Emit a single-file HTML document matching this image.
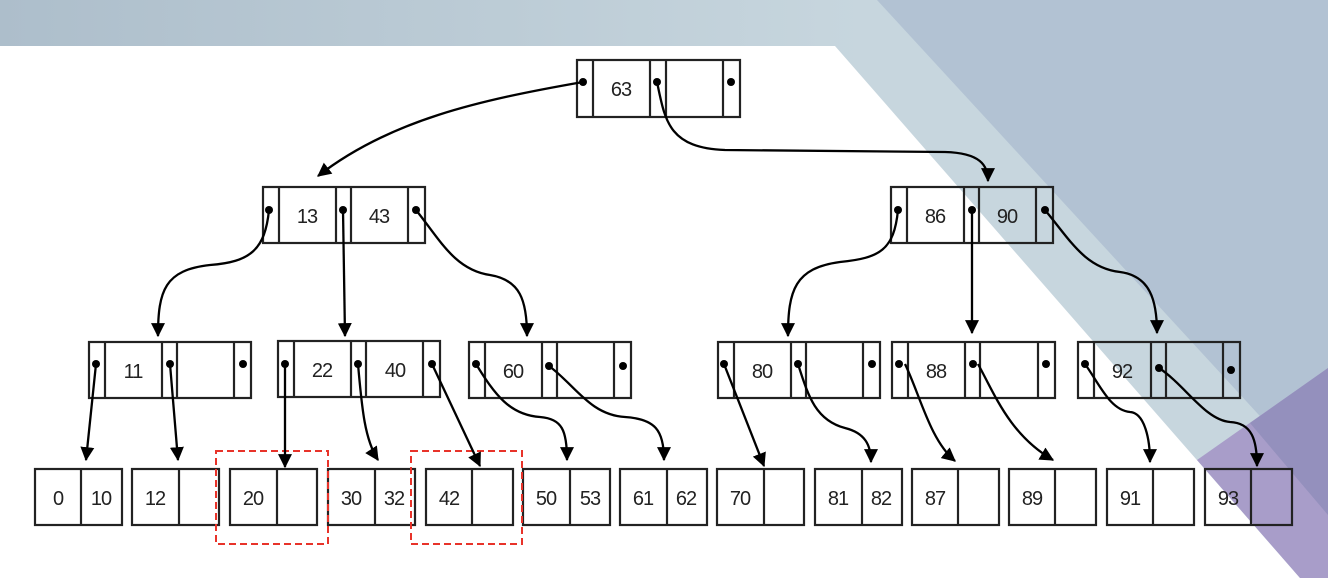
<!DOCTYPE html>
<html><head><meta charset="utf-8"><style>
html,body{margin:0;padding:0;background:#fff;}
svg{display:block;}
text{font-family:"Liberation Sans",sans-serif;font-size:20px;fill:#222;text-anchor:middle;letter-spacing:-1px;}
</style></head><body>
<svg width="1328" height="578" viewBox="0 0 1328 578" xmlns="http://www.w3.org/2000/svg">
<defs>
<linearGradient id="g1" x1="0" y1="0" x2="1" y2="0">
<stop offset="0" stop-color="#adbecb"/><stop offset="0.65" stop-color="#c7d6de"/><stop offset="1" stop-color="#c7d6de"/>
</linearGradient>
<marker id="ah" viewBox="0 0 10 10" refX="9" refY="5" markerWidth="7" markerHeight="7" markerUnits="userSpaceOnUse" orient="auto-start-reverse">
</marker>
<marker id="a" viewBox="0 0 12 12" refX="11" refY="6" markerWidth="14" markerHeight="14" markerUnits="userSpaceOnUse" orient="auto"><path d="M0,0 L12,6 L0,12 z" fill="#000"/></marker>
</defs>
<rect width="1328" height="578" fill="url(#g1)"/>
<polygon points="0,46 835,46 1300,578 0,578" fill="#fff"/>
<polygon points="877,0 1328,0 1328,490" fill="#b2c2d3"/>
<polygon points="1197,460 1328,368 1328,578 1300,578" fill="#a89dc9"/>
<polygon points="1250,423 1328,368 1328,515" fill="#9490bd"/>

<g fill="none" stroke="#222" stroke-width="2.2">
<!-- root -->
<rect x="577" y="60" width="163" height="57"/>
<path d="M593,60V117M650,60V117M666,60V117M723,60V117"/>
<!-- level2 -->
<rect x="263" y="187" width="162" height="56"/><path d="M279,187V243M336,187V243M351,187V243M408,187V243"/>
<rect x="891" y="187" width="162" height="56"/><path d="M907,187V243M964,187V243M979,187V243M1036,187V243"/>
<!-- level3 -->
<rect x="89" y="342" width="162" height="56"/><path d="M105,342V398M162,342V398M177,342V398M234,342V398"/>
<rect x="278" y="341" width="162" height="56"/><path d="M294,341V397M351,341V397M366,341V397M423,341V397"/>
<rect x="469" y="342" width="162" height="56"/><path d="M485,342V398M542,342V398M557,342V398M614,342V398"/>
<rect x="718" y="342" width="162" height="56"/><path d="M734,342V398M791,342V398M806,342V398M863,342V398"/>
<rect x="892" y="342" width="163" height="56"/><path d="M908,342V398M965,342V398M980,342V398M1038,342V398"/>
<rect x="1078" y="342" width="162" height="56"/><path d="M1094,342V398M1151,342V398M1166,342V398M1223,342V398"/>
<!-- leaves -->
<rect x="35" y="469" width="87" height="56"/><path d="M81,469V525"/>
<rect x="132" y="469" width="87" height="56"/><path d="M179,469V525"/>
<rect x="230" y="469" width="87" height="56"/><path d="M277,469V525"/>
<rect x="328" y="469" width="87" height="56"/><path d="M375,469V525"/>
<rect x="426" y="469" width="87" height="56"/><path d="M472,469V525"/>
<rect x="523" y="469" width="87" height="56"/><path d="M570,469V525"/>
<rect x="620" y="469" width="87" height="56"/><path d="M667,469V525"/>
<rect x="717" y="469" width="87" height="56"/><path d="M764,469V525"/>
<rect x="815" y="469" width="87" height="56"/><path d="M862,469V525"/>
<rect x="912" y="469" width="87" height="56"/><path d="M958,469V525"/>
<rect x="1009" y="469" width="87" height="56"/><path d="M1055,469V525"/>
<rect x="1107" y="469" width="87" height="56"/><path d="M1153,469V525"/>
<rect x="1205" y="469" width="87" height="56"/><path d="M1251,469V525"/>
</g>
<g fill="none" stroke="#e8332a" stroke-width="2" stroke-dasharray="7,4">
<rect x="216" y="451" width="112" height="93"/>
<rect x="411" y="451" width="111" height="93"/>
</g>

<g fill="#000">
<circle cx="583" cy="82" r="4"/><circle cx="657" cy="82" r="4"/><circle cx="731" cy="82" r="4"/>
<circle cx="269" cy="210" r="4"/><circle cx="343" cy="210" r="4"/><circle cx="416" cy="210" r="4"/>
<circle cx="898" cy="210" r="4"/><circle cx="972" cy="210" r="4"/><circle cx="1045" cy="210" r="4"/>
<circle cx="96" cy="364" r="4"/><circle cx="170" cy="364" r="4"/><circle cx="243" cy="364" r="4"/>
<circle cx="285" cy="364" r="4"/><circle cx="358" cy="364" r="4"/><circle cx="432" cy="364" r="4"/>
<circle cx="476" cy="364" r="4"/><circle cx="549" cy="366" r="4"/><circle cx="623" cy="366" r="4"/>
<circle cx="724" cy="364" r="4"/><circle cx="798" cy="364" r="4"/><circle cx="872" cy="364" r="4"/>
<circle cx="899" cy="364" r="4"/><circle cx="973" cy="364" r="4"/><circle cx="1046" cy="364" r="4"/>
<circle cx="1085" cy="364" r="4"/><circle cx="1159" cy="368" r="4"/><circle cx="1231" cy="370" r="4"/>
</g>

<g fill="none" stroke="#000" stroke-width="2.3" marker-end="url(#a)">
<path d="M583,82 C480,100 390,120 318,176"/>
<path d="M657,82 C665,120 668,148 725,150 L945,152 C980,153 988,165 988,181"/>
<path d="M269,210 C265,250 250,262 210,265 C165,270 158,290 158,336"/>
<path d="M343,210 L345,336"/>
<path d="M416,210 C440,240 455,270 490,275 C520,280 527,300 527,336"/>
<path d="M898,210 C894,250 880,258 840,262 C795,268 788,290 788,336"/>
<path d="M972,210 L972,333"/>
<path d="M1045,210 C1070,240 1085,268 1120,272 C1150,276 1157,300 1157,333"/>
<path d="M96,364 L86,460"/>
<path d="M170,364 L178,460"/>
<path d="M285,364 L285,467"/>
<path d="M358,364 C362,410 365,440 378,460"/>
<path d="M432,364 L480,466"/>
<path d="M476,364 C495,395 510,415 540,417 C562,419 567,430 567,460"/>
<path d="M549,366 C575,385 590,415 625,417 C655,419 664,430 664,460"/>
<path d="M724,364 L764,466"/>
<path d="M798,364 C808,395 815,420 845,428 C865,433 871,445 871,462"/>
<path d="M905,364 C920,395 930,440 955,461"/>
<path d="M978,364 C995,395 1010,435 1053,460"/>
<path d="M1085,364 C1100,385 1110,410 1130,412 C1145,413 1150,440 1150,462"/>
<path d="M1159,368 C1185,385 1205,420 1230,422 C1252,423 1257,440 1257,466"/>
</g>

<g>
<text x="621" y="96">63</text>
<text x="307" y="223">13</text>
<text x="379" y="223">43</text>
<text x="935" y="223">86</text>
<text x="1007" y="223">90</text>
<text x="133" y="378">11</text>
<text x="322" y="377">22</text>
<text x="395" y="377">40</text>
<text x="513" y="378">60</text>
<text x="762" y="378">80</text>
<text x="936" y="378">88</text>
<text x="1122" y="378">92</text>
<text x="58" y="505">0</text><text x="101" y="505">10</text>
<text x="155" y="505">12</text>
<text x="253" y="505">20</text>
<text x="351" y="505">30</text><text x="394" y="505">32</text>
<text x="449" y="505">42</text>
<text x="546" y="505">50</text><text x="590" y="505">53</text>
<text x="643" y="505">61</text><text x="686" y="505">62</text>
<text x="740" y="505">70</text>
<text x="838" y="505">81</text><text x="881" y="505">82</text>
<text x="935" y="505">87</text>
<text x="1032" y="505">89</text>
<text x="1130" y="505">91</text>
<text x="1228" y="505">93</text>
</g>
</svg>
</body></html>
